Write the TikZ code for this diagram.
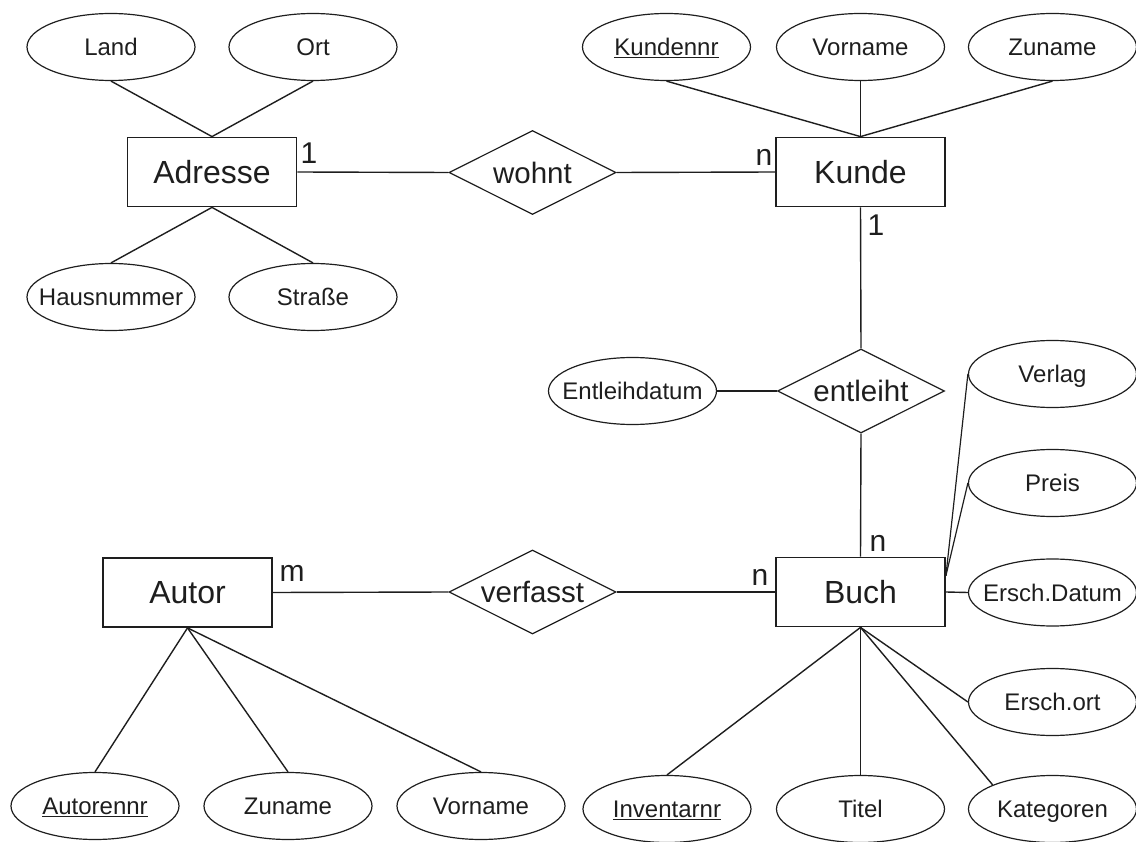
\documentclass[tikz,border=0pt]{standalone}
\usepackage{fontspec}
\setmainfont{Liberation Sans}
\usetikzlibrary{shapes.geometric,calc}
\definecolor{ink}{RGB}{30,30,30}
\newcommand\attrtext[1]{\makebox[0pt]{#1}}
\tikzset{
  entity/.style={draw=ink,line width=1.8pt,rectangle,minimum width=169pt,minimum height=69pt,inner sep=0pt,text=ink,font=\fontsize{32}{38}\selectfont},
  attr/.style={draw=ink,line width=1.2pt,ellipse,minimum width=168pt,minimum height=67pt,inner sep=0pt,text=ink,text height=18pt,text depth=0.8pt,font=\fontsize{24}{28}\selectfont},
  rel/.style={draw=ink,line width=1.2pt,diamond,aspect=2,minimum width=167pt,minimum height=84pt,inner sep=0pt,text=ink,font=\fontsize{29.5}{34}\selectfont},
  card/.style={inner sep=0pt,text=ink,font=\fontsize{30}{34}\selectfont},
  conn/.style={draw=ink,line width=1.4pt}
}
\begin{document}
\begin{tikzpicture}[x=1pt,y=-1pt]
\useasboundingbox (0,0) rectangle (1136,842);
% entities
\node[entity] (adresse) at (212,172) {Adresse};
\node[entity] (kunde) at (860.5,172) {Kunde};
\node[entity] (autor) at (187.5,592.5) {Autor};
\node[entity] (buch) at (860.5,592) {Buch};
% relations
\node[rel] (wohnt) at (532.5,172.5) {wohnt};
\node[rel] (entleiht) at (861,391) {entleiht};
\node[rel] (verfasst) at (532.5,592) {verfasst};
% attributes
\node[attr] (land) at (111,47) {\attrtext{Land}};
\node[attr] (ort) at (313,47) {\attrtext{Ort}};
\node[attr] (haus) at (111,297) {\attrtext{Hausnummer}};
\node[attr] (strasse) at (313,297) {\attrtext{Straße}};
\node[attr] (kundennr) at (666.5,47) {\attrtext{\underline{Kundennr}}};
\node[attr] (kvorname) at (860.5,47) {\attrtext{Vorname}};
\node[attr] (kzuname) at (1052.5,47) {\attrtext{Zuname}};
\node[attr] (entleihdatum) at (632.5,391) {\attrtext{Entleihdatum}};
\node[attr] (verlag) at (1052.5,374) {\attrtext{Verlag}};
\node[attr] (preis) at (1052.5,483) {\attrtext{Preis}};
\node[attr] (erschdatum) at (1052.5,592.5) {\attrtext{Ersch.Datum}};
\node[attr] (erschort) at (1052.5,702) {\attrtext{Ersch.ort}};
\node[attr] (autorennr) at (95,806) {\attrtext{\underline{Autorennr}}};
\node[attr] (azuname) at (288,806) {\attrtext{Zuname}};
\node[attr] (avorname) at (481,806) {\attrtext{Vorname}};
\node[attr] (inventarnr) at (667,809) {\attrtext{\underline{Inventarnr}}};
\node[attr] (titel) at (860.5,809) {\attrtext{Titel}};
\node[attr] (kategoren) at (1052.5,809) {\attrtext{Kategoren}};
% connectors
\draw[conn] (adresse.east) -- (wohnt.west);
\draw[conn] (wohnt.east) -- (kunde.west);
\draw[conn] (kunde.south) -- (entleiht.north);
\draw[conn] (entleiht.south) -- (buch.north);
\draw[conn] (entleihdatum.east) -- (entleiht.west);
\draw[conn] (autor.east) -- (verfasst.west);
\draw[conn] (verfasst.east) -- (buch.west);
\draw[conn] (land.south) -- (adresse.north);
\draw[conn] (ort.south) -- (adresse.north);
\draw[conn] (haus.north) -- (adresse.south);
\draw[conn] (strasse.north) -- (adresse.south);
\draw[conn] (kundennr.south) -- (kunde.north);
\draw[conn] (kvorname.south) -- (kunde.north);
\draw[conn] (kzuname.south) -- (kunde.north);
\coordinate (bp) at ($(buch.north east)!0.27!(buch.south east)$);
\draw[conn,line width=1.2pt] (verlag.west) -- (bp);
\draw[conn,line width=1.2pt] (preis.west) -- (bp);
\draw[conn] (buch.east) -- (erschdatum.west);
\draw[conn] (buch.south) -- (erschort.west);
\draw[conn] (buch.south) -- (inventarnr.north);
\draw[conn] (buch.south) -- (titel.north);
\draw[conn] (buch.south) -- (kategoren.north west);
\draw[conn] (autor.south) -- (autorennr.north);
\draw[conn] (autor.south) -- (azuname.north);
\draw[conn] (autor.south) -- (avorname.north);
% cardinalities
\node[card] (c1) at (309,153) {1};
\node[card] (c2) at (764,157) {n};
\node[card] (c3) at (876,225) {1};
\node[card] (c4) at (878,543) {n};
\node[card] (c5) at (760,577) {n};
\node[card] (c6) at (292,573) {m};
\end{tikzpicture}
\end{document}
